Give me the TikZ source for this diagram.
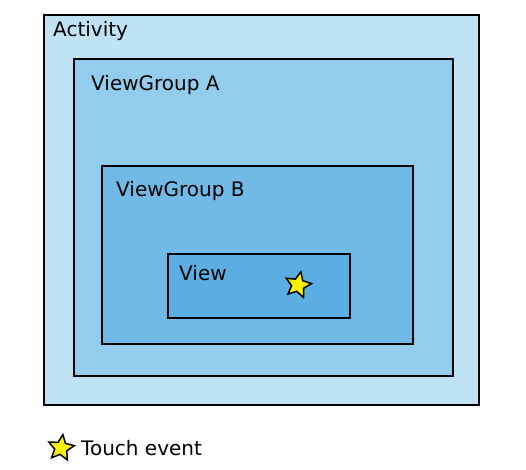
\documentclass[tikz,border=0pt]{standalone}
\usepackage{fontspec}
\setmainfont{DejaVu Sans}
\usetikzlibrary{shapes.geometric}

\definecolor{actblue}{HTML}{BFE2F4}
\definecolor{groupablue}{HTML}{92CDEE}
\definecolor{groupbblue}{HTML}{71BAE6}
\definecolor{viewblue}{HTML}{5CADE1}

\begin{document}
\begin{tikzpicture}[
  x=1pt, y=-1pt,
  box/.style={draw=black, line width=2pt},
  boxlabel/.style={anchor=north west, inner sep=0pt, font=\fontsize{20}{22}\selectfont},
  touch/.style={star, star points=5, star point ratio=2.1, minimum size=27pt,
    inner sep=0pt, draw=black, line width=1.5pt, fill=yellow}
]
  \useasboundingbox (0,0) rectangle (526,469);
  % nested containers
  \draw[box, fill=actblue] (44,15) rectangle (479,405);
  \node[boxlabel] (activity) at (53,21) {Activity};
  \draw[box, fill=groupablue] (74,59) rectangle (453,376);
  \node[boxlabel] (groupa) at (91,75) {ViewGroup A};
  \draw[box, fill=groupbblue] (102,166) rectangle (413,344);
  \node[boxlabel] (groupb) at (116,181) {ViewGroup B};
  \draw[box, fill=viewblue] (168,254) rectangle (350,318);
  \node[boxlabel] (view) at (179,265) {View};
  \node[touch, rotate=-12] (event) at (298,285) {};
  % legend
  \node[touch, rotate=-8] (legendstar) at (61,448) {};
  \node[boxlabel, anchor=west] (legend) at (81,448) {Touch event};
\end{tikzpicture}
\end{document}
